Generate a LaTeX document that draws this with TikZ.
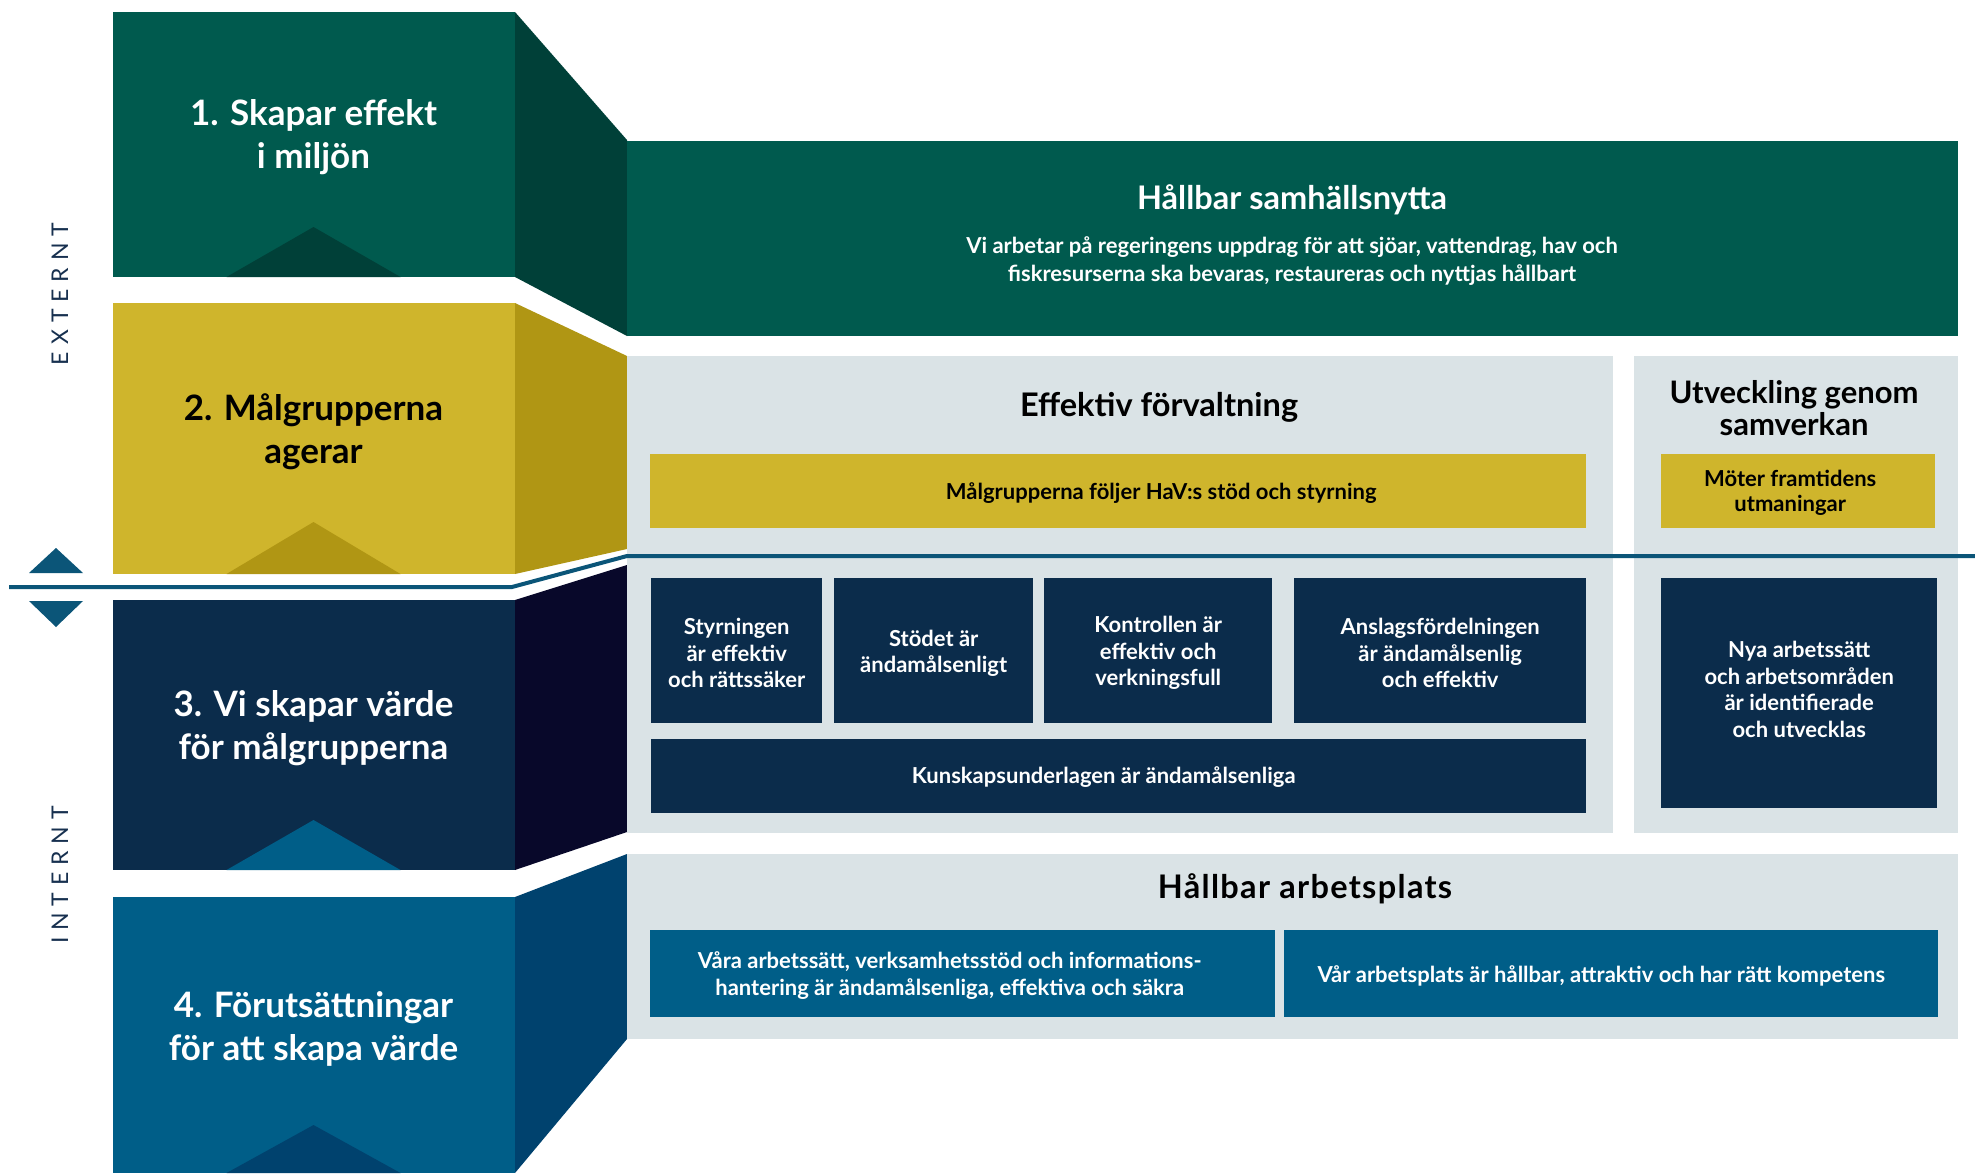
\documentclass[tikz,border=0pt]{standalone}
\usepackage{fontspec}
\setmainfont{Lato}
\usetikzlibrary{positioning}

\definecolor{hgreen}{HTML}{005A4E}
\definecolor{hgreendk}{HTML}{004038}
\definecolor{hyellow}{HTML}{CFB52C}
\definecolor{hyellowdk}{HTML}{B09614}
\definecolor{hnavy}{HTML}{0B2C4B}
\definecolor{hnavydk}{HTML}{08082A}
\definecolor{hblue}{HTML}{005E88}
\definecolor{hbluedk}{HTML}{00426E}
\definecolor{hgrey}{HTML}{DAE3E6}
\definecolor{hline}{HTML}{0B5578}
\definecolor{hside}{HTML}{17304F}

\tikzset{
  blocktext/.style={font=\fontsize{35}{43}\selectfont\bfseries, align=center, text=white},
  headtext/.style={font=\fontsize{32.5}{32}\selectfont\bfseries, align=center},
  subtext/.style={font=\fontsize{22}{28}\selectfont\bfseries, align=center},
  boxtext/.style={font=\fontsize{22}{26.5}\selectfont\bfseries, align=center},
  sidetext/.style={font=\fontsize{23}{23}\selectfont\addfontfeature{LetterSpace=30}, text=hside, rotate=90},
  panel/.style={anchor=north west, inner sep=0, fill=#1},
}

\begin{document}
\begin{tikzpicture}[x=1pt,y=-1pt]
  \useasboundingbox (0,0) rectangle (1975,1173);

  % left column: front faces, side faces, notches
  \fill[hgreen] (113,12) rectangle (515,277);
  \fill[hgreendk] (515,12) -- (627,140) -- (627,336) -- (515,277) -- cycle;
  \fill[hgreendk] (226.5,277) -- (313.5,227) -- (400.5,277) -- cycle;

  \fill[hyellow] (113,303) rectangle (515,574);
  \fill[hyellowdk] (515,303) -- (627,356) -- (627,549) -- (515,574) -- cycle;
  \fill[hyellowdk] (226.5,574) -- (313.5,522) -- (400.5,574) -- cycle;

  \fill[hnavy] (113,600) rectangle (515,870);
  \fill[hnavydk] (515,600) -- (627,565) -- (627,832) -- (515,870) -- cycle;
  \fill[hblue] (226.5,870) -- (313.5,820) -- (400.5,870) -- cycle;

  \fill[hblue] (113,897) rectangle (515,1173);
  \fill[hbluedk] (515,897) -- (627,854) -- (627,1039) -- (515,1173) -- cycle;
  \fill[hbluedk] (226.5,1173) -- (313.5,1125) -- (400.5,1173) -- cycle;

  \node[blocktext] (b1) at (313.5,137) {1. Skapar effekt\\i miljön};
  \node[blocktext, text=black] (b2) at (313.5,432) {2. Målgrupperna\\agerar};
  \node[blocktext] (b3) at (313.5,728) {3. Vi skapar värde\\för målgrupperna};
  \node[blocktext] (b4) at (313.5,1029) {4. Förutsättningar\\för att skapa värde};

  % right side panels
  \node[panel=hgreen, minimum width=1331, minimum height=195] (nytta) at (627,141) {};
  \node[panel=hgrey, minimum width=986, minimum height=477] (forv) at (627,356) {};
  \node[panel=hgrey, minimum width=324, minimum height=477] (samv) at (1634,356) {};
  \node[panel=hgrey, minimum width=1331, minimum height=185] (arb) at (627,854) {};

  \node[headtext, text=white] (nyttatitle) at (1292,200) {Hållbar samhällsnytta};
  \node[subtext, text=white] (nyttatext) at (1292,261)
    {Vi arbetar på regeringens uppdrag för att sjöar, vattendrag, hav och\\
     fiskresurserna ska bevaras, restaureras och nyttjas hållbart};
  \node[headtext] (forvtitle) at (1159,407) {Effektiv förvaltning};
  \node[headtext, font=\fontsize{31}{32}\selectfont\bfseries] (samvtitle) at (1794,408) {Utveckling genom\\samverkan};
  \node[headtext, font=\fontsize{32.5}{32}\selectfont\bfseries\addfontfeature{LetterSpace=4}] (arbtitle) at (1305,889) {Hållbar arbetsplats};

  % inner boxes
  \node[panel=hyellow, minimum width=936, minimum height=74] (malg) at (650,454) {};
  \node[boxtext] at ([xshift=43,yshift=-2]malg.center) {Målgrupperna följer HaV:s stöd och styrning};
  \node[panel=hyellow, minimum width=274, minimum height=74] (moter) at (1661,454) {};
  \node[boxtext, font=\fontsize{22}{25}\selectfont\bfseries] at ([xshift=-8,yshift=-2]moter.center)
    {Möter framtidens\\utmaningar};

  \node[panel=hnavy, minimum width=171, minimum height=145] (styr) at (651,577.5) {};
  \node[boxtext, text=white] at ([yshift=-3]styr.center) {Styrningen\\är effektiv\\och rättssäker};
  \node[panel=hnavy, minimum width=199, minimum height=145] (stod) at (834,577.5) {};
  \node[boxtext, text=white] at ([yshift=-3]stod.center) {Stödet är\\ändamålsenligt};
  \node[panel=hnavy, minimum width=228, minimum height=145] (kontr) at (1044,577.5) {};
  \node[boxtext, text=white] at ([yshift=-3]kontr.center) {Kontrollen är\\effektiv och\\verkningsfull};
  \node[panel=hnavy, minimum width=292, minimum height=145] (ansl) at (1294,577.5) {};
  \node[boxtext, text=white] at ([yshift=-3]ansl.center) {Anslagsfördelningen\\är ändamålsenlig\\och effektiv};
  \node[panel=hnavy, minimum width=935, minimum height=74] (kunsk) at (651,739) {};
  \node[boxtext, text=white] at ([xshift=-15,yshift=-1]kunsk.center) {Kunskapsunderlagen är ändamålsenliga};
  \node[panel=hnavy, minimum width=276, minimum height=230] (nya) at (1661,578) {};
  \node[boxtext, text=white] at ([yshift=4]nya.center)
    {Nya arbetssätt\\och arbetsområden\\är identifierade\\och utvecklas};

  \node[panel=hblue, minimum width=625, minimum height=87] (vara) at (650,930) {};
  \node[boxtext, text=white, font=\fontsize{22}{27.5}\selectfont\bfseries] at ([xshift=-13,yshift=-2]vara.center)
    {Våra arbetssätt, verksamhetsstöd och informations-\\hantering är ändamålsenliga, effektiva och säkra};
  \node[panel=hblue, minimum width=654, minimum height=87] (var) at (1284,930) {};
  \node[boxtext, text=white] at ([xshift=-10,yshift=-2]var.center)
    {Vår arbetsplats är hållbar, attraktiv och har rätt kompetens};

  % divider between external and internal
  \coordinate (divL) at (9,587);
  \coordinate (divA) at (512,587);
  \coordinate (divB) at (627,556);
  \coordinate (divR) at (1975,556);
  \draw[hline, line width=4] (divL) -- (divA) -- (divB) -- (divR);
  \fill[hline] (29,573) -- (56,548) -- (83,573) -- cycle;
  \fill[hline] (29,601) -- (56,627) -- (83,601) -- cycle;

  \node[sidetext] (ext) at (60,294) {EXTERNT};
  \node[sidetext] (int) at (60,875) {INTERNT};
\end{tikzpicture}
\end{document}
